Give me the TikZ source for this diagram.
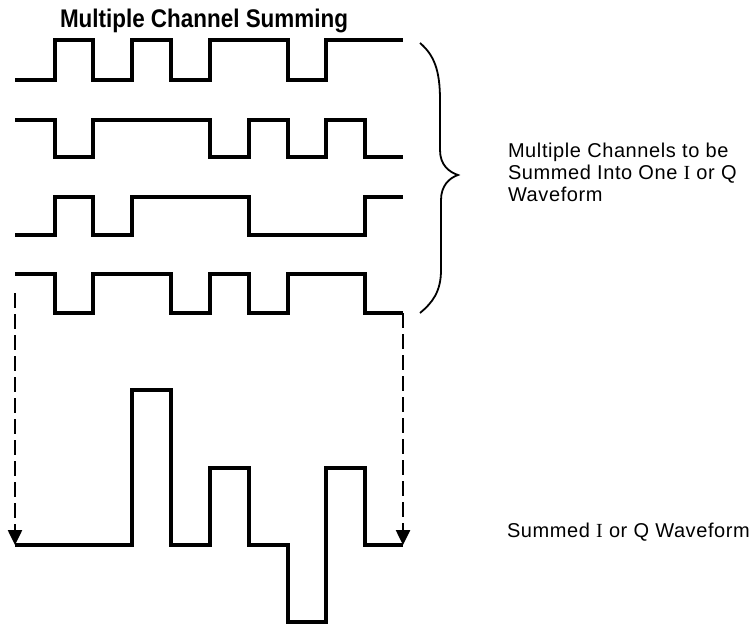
\documentclass[tikz,border=0pt]{standalone}
\usepackage{fontspec}
\setmainfont{Liberation Sans}
\newfontfamily\titlefont[FakeStretch=0.88]{Liberation Sans}
\newfontfamily\labelfont[LetterSpace=3]{Liberation Sans}
\newfontfamily\serifletter{Liberation Serif}
\usetikzlibrary{arrows.meta}
\begin{document}
\begin{tikzpicture}[x=1pt, y=-1pt, line width=4pt, >={Triangle[width=14pt, length=15pt]},
  wave/.style={draw=black, line join=miter},
  guide/.style={draw=black, line width=2.5pt, dash pattern=on 15pt off 6pt},
  lbl/.style={inner sep=0pt, align=left, font=\fontsize{20}{22}\labelfont}]
  \useasboundingbox (0,0) rectangle (751,625);
  \node[anchor=base west, inner sep=0pt, font=\fontsize{25.5}{28}\titlefont\bfseries] (title) at (58,27.7) {Multiple Channel Summing};
  % four channels
  \draw[wave] (15,80) -| (55,40) -| (93,80) -| (132,40) -| (171,80) -| (210,40) -| (288,80) -| (326,40) -- (403,40);
  \draw[wave] (15,120) -| (55,157) -| (93,120) -| (210,157) -| (249,120) -| (288,157) -| (326,120) -| (365,157) -- (403,157);
  \draw[wave] (15,235) -| (55,197) -| (93,235) -| (132,197) -| (249,235) -| (365,197) -- (403,197);
  \draw[wave] (15,274) -| (55,313) -| (93,274) -| (171,313) -| (210,274) -| (249,313) -| (288,274) -| (365,313) -- (403,313);
  % summed waveform
  \draw[wave] (15,545) -| (132,390) -| (171,545) -| (210,468) -| (249,545) -| (288,622) -| (326,468) -| (365,545) -- (403,545);
  \coordinate (lstart) at (15,293);
  \coordinate (lend) at (15,545);
  \coordinate (rstart) at (403,313);
  \coordinate (rend) at (403,545);
  \draw[guide, ->] (lstart) -- (lend);
  \draw[guide, ->] (rstart) -- (rend);
  % brace
  \draw[line width=1.8pt]
    (420,43) .. controls (434,55) and (440,70) .. (440,100) -- (440,150)
    .. controls (440,165) and (449,172) .. (458,175)
    .. controls (449,178) and (441,186) .. (441,200) -- (441,270)
    .. controls (441,292) and (432,303) .. (420,313);
  \node[lbl, anchor=north west] (chanlabel) at (506,141) {Multiple Channels to be\\Summed Into One {\serifletter I} or Q\\Waveform};
  \node[lbl, anchor=base west] (sumlabel) at (505,537) {Summed {\serifletter I} or Q Waveform};
\end{tikzpicture}
\end{document}
